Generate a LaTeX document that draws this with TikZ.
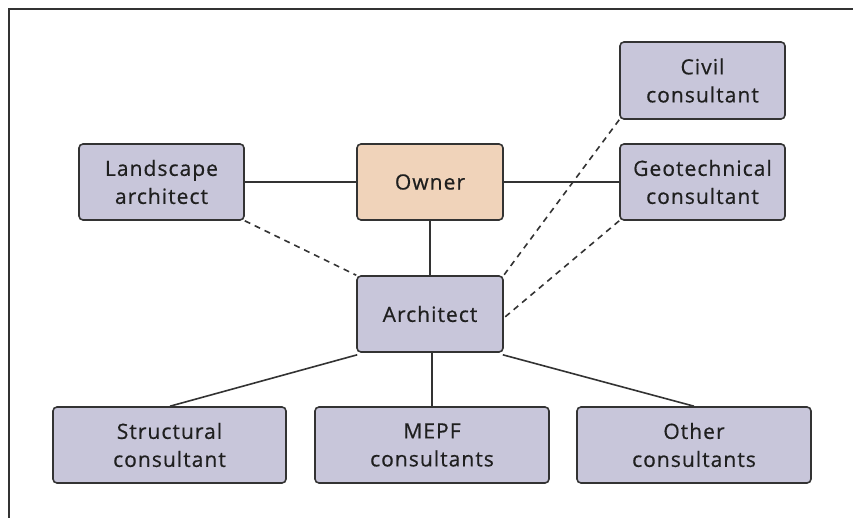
\documentclass[tikz,border=0pt]{standalone}
\usepackage{fontspec}
\setmainfont{Open Sans}
\begin{document}
\begin{tikzpicture}[x=1pt,y=-1pt,
  box/.style={draw=black!80,line width=1.6pt,rounded corners=4pt,fill=lav,
    inner sep=0pt,align=center,font=\fontsize{21}{28}\selectfont\addfontfeatures{FakeBold=0.6,LetterSpace=5},text=black!88},
  link/.style={draw=black!80,line width=1.6pt},
  dlink/.style={draw=black!80,line width=1.6pt,dash pattern=on 6pt off 5pt}]
\definecolor{lav}{HTML}{C8C6DA}
\definecolor{own}{HTML}{F0D3BA}
\useasboundingbox (0,0) rectangle (853,518);
\draw[black!80,line width=2pt] (9,518) -- (9,9) -- (853,9);
\node[box,minimum width=165pt,minimum height=76pt] (land) at (161.5,182) {Landscape\\architect};
\node[box,fill=own,minimum width=146pt,minimum height=76pt] (owner) at (430,182) {Owner};
\node[box,minimum width=165pt,minimum height=77pt] (civil) at (702.5,80.5) {Civil\\consultant};
\node[box,minimum width=165pt,minimum height=76pt] (geo) at (702.5,182) {Geotechnical\\consultant};
\node[box,minimum width=146pt,minimum height=76pt] (arch) at (430,314) {Architect};
\node[box,minimum width=233pt,minimum height=76pt] (struc) at (169.5,445) {Structural\\consultant};
\node[box,minimum width=234pt,minimum height=76pt] (mepf) at (432,445) {MEPF\\consultants};
\node[box,minimum width=234pt,minimum height=76pt] (other) at (694,445) {Other\\consultants};
\draw[link] (land.east) -- (owner.west);
\draw[link] (owner.east) -- (geo.west);
\draw[link] (owner.south) -- (arch.north);
\draw[dlink] (land.south east) -- (arch.north west);
\draw[dlink] (civil.south west) -- (arch.north east);
\draw[dlink] (geo.south west) -- ([yshift=-4pt]arch.east);
\draw[link] ([xshift=1pt,yshift=-2pt]arch.south west) -- ([xshift=0.5pt]struc.north);
\draw[link] ([xshift=2pt]arch.south) -- (mepf.north);
\draw[link] ([xshift=-1pt,yshift=-2pt]arch.south east) -- (other.north);
\end{tikzpicture}
\end{document}
